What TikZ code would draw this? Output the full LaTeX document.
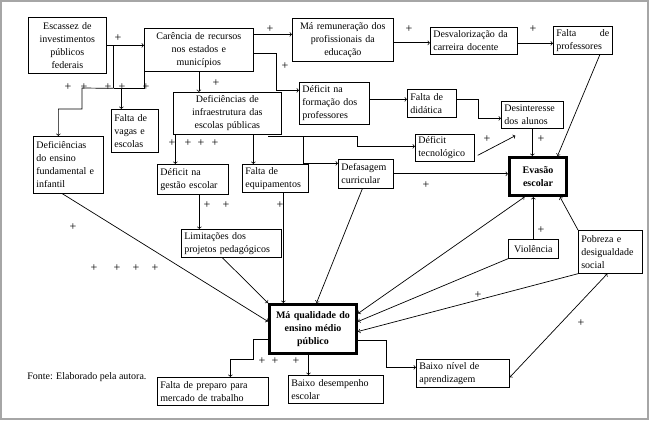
\documentclass[tikz,border=0pt]{standalone}
\usepackage{fontspec}
\setmainfont{Liberation Serif}
\usetikzlibrary{positioning, calc, arrows}

\begin{document}
\begin{tikzpicture}[x=1pt, y=-1pt, line width=0.7pt,
  box/.style={draw, anchor=north west, inner xsep=3pt, inner ysep=1pt, align=center, font=\fontsize{10}{13}\selectfont},
  lbox/.style={box, align=left},
  key/.style={box, line width=3pt, outer sep=1.5pt, font=\bfseries\fontsize{10}{13}\selectfont},
  plus/.style={inner sep=0pt, font=\fontsize{12}{12}\selectfont}]
   \useasboundingbox (0,0) rectangle (650,422);
   \draw[gray!70, line width=1.2pt] (1,1) rectangle (648,419);

   \node[box, text width=72pt, minimum height=56pt] (esc) at (28,17) {Escassez de\\investimentos\\públicos\\federais};
   \node[box, text width=103pt, minimum height=43pt] (car) at (144,28) {Carência de recursos\\nos estados e\\municípios};
   \node[box, text width=95pt, minimum height=43pt] (rem) at (292,18) {Má remuneração dos\\profissionais da\\educação};
   \node[lbox, text width=81pt, minimum height=27pt] (desv) at (430,27) {Desvalorização da\\carreira docente};
   \node[lbox, text width=53pt, minimum height=28pt] (prof) at (553,26) {Falta\hfill de\\professores};
   \node[lbox, text width=41pt, minimum height=43pt] (vagas) at (111,109) {Falta de\\vagas e\\escolas};
   \node[box, text width=102pt, minimum height=42pt] (infra) at (173,92) {Deficiências de\\infraestrutura das\\escolas públicas};
   \node[lbox, text width=64pt, minimum height=42pt] (form) at (299,82) {Déficit na\\formação dos\\professores};
   \node[lbox, text width=43pt, minimum height=28pt] (did) at (407,89) {Falta de\\didática};
   \node[lbox, text width=56pt, minimum height=27pt] (desint) at (501,101) {Desinteresse\\dos alunos};
   \node[lbox, text width=53pt, minimum height=27pt] (tec) at (415,134) {Déficit\\tecnológico};
   \node[lbox, text width=64pt, minimum height=57pt] (fund) at (33,136) {Deficiências\\do ensino\\fundamental e\\infantil};
   \node[lbox, text width=65pt, minimum height=30pt] (gest) at (157,164) {Déficit na\\gestão escolar};
   \node[lbox, text width=60pt, minimum height=28pt] (equip) at (242,164) {Falta de\\equipamentos};
   \node[lbox, text width=49pt, minimum height=29pt] (defas) at (338,159) {Defasagem\\curricular};
   \node[key, text width=51pt, minimum height=38pt] (evasao) at (508,156) {Evasão\\escolar};
   \node[lbox, text width=94pt, minimum height=28pt] (lim) at (181,229) {Limitações dos\\projetos pedagógicos};
   \node[box, text width=44pt, minimum height=19pt] (viol) at (508,239) {Violência};
   \node[lbox, text width=58pt, minimum height=43pt] (pobr) at (578,230) {Pobreza e\\desigualdade\\social};
   \node[key, text width=81pt, minimum height=49pt] (quali) at (268,303) {Má qualidade do\\ensino médio\\público};
   \node[lbox, text width=105pt, minimum height=28pt] (prep) at (157,377) {Falta de preparo para\\mercado de trabalho};
   \node[lbox, text width=89pt, minimum height=28pt] (desemp) at (288,375) {Baixo desempenho\\escolar};
   \node[lbox, text width=87pt, minimum height=28pt] (aprend) at (416,359) {Baixo nível de\\aprendizagem};
   \node[anchor=west, inner sep=0pt, font=\fontsize{10}{13}\selectfont] (fonte) at (27,377) {Fonte: Elaborado pela autora.};

   % top row
   \draw[->] (esc.east) -- (esc.east -| car.west);
   \draw (esc.east) ++(7,0) coordinate (ja) -- ++(0,43) coordinate (jb);
   \draw[->] (jb) -- (82,88) -- (82,109) -| ([xshift=-10pt]fund.north);
   \draw (car.south west) |- (jb);
   \coordinate (jv) at ([xshift=-13.5pt]vagas.north |- jb);
   \draw[->] (jv) -- ([xshift=-13.5pt]vagas.north);
   \draw[->] ([yshift=15.5pt]car.east) coordinate (c1) -- (c1 -| rem.west);
   \draw[->] ([yshift=-4pt]car.east) -- ++(23,0) |- ([yshift=13pt]form.west);
   \draw[->] (car.south) -- (car.south |- infra.north);
   \draw[->] ([yshift=-3pt]rem.east) coordinate (c2) -- (c2 -| desv.west);
   \draw[->] ([yshift=-2.5pt]desv.east) coordinate (c3) -- (c3 -| prof.west);
   \draw[->] ([xshift=17pt]prof.south) -- ([xshift=19.5pt]evasao.north);
   \draw[->] ([yshift=4pt]form.east) coordinate (c4) -- (c4 -| did.west);
   \draw[->] ([yshift=4pt]did.east) -- ++(22,0) |- ([yshift=-3.5pt]desint.west);
   \draw[->] (desint.south) -- (desint.south |- evasao.north);
   \draw[->] ([shift={(3pt,-7.5pt)}]tec.east) -- ([shift={(-17pt,-7pt)}]desint.south);

   % infraestrutura
   \draw[->] ([shift={(41pt,-2pt)}]infra.south) -- ++(89,0) |- ([yshift=1.5pt]tec.west);
   \draw[->] ([shift={(76pt,-2pt)}]infra.south) |- ([yshift=10.5pt]defas.west);
   \draw[->] ([xshift=-52pt]infra.south) coordinate (c5) -- (c5 |- gest.north);
   \draw[->] ([xshift=26pt]infra.south) coordinate (c6) -- (c6 |- equip.north);
   \draw[->] ([xshift=6.5pt]gest.south) coordinate (c7) -- (c7 |- lim.north);

   % into ma qualidade / evasao
   \draw[->] ([xshift=8pt]equip.south) coordinate (c8) -- (c8 |- quali.north);
   \draw[->] ([xshift=-9pt]lim.south) -- (quali.north west);
   \draw[->] ([xshift=-6pt]fund.south) -- ([yshift=7.5pt]quali.west);
   \draw[->] ([xshift=-3.5pt]defas.south) -- ([xshift=3.5pt]quali.north);
   \draw[<->] ([xshift=-13.5pt]evasao.south) -- ([yshift=15.5pt]quali.east);
   \draw[->] (defas.east) -- (defas.east -| evasao.west);
   \draw[->] (viol.north) -- (viol.north |- evasao.south);
   \draw[->] (viol.south west) -- ([yshift=7.5pt]quali.east);
   \draw[->] (pobr.north west) -- ([xshift=-8pt]evasao.south east);
   \draw[->] (pobr.south west) -- ([yshift=-2.5pt]quali.east);
   \draw[<->] ([xshift=-3pt]pobr.south) -- ([yshift=-4pt]aprend.east);

   % consequences
   \draw[->] ([yshift=-10.5pt]quali.west) -- ++(-15,0) -- ++(0,20) -| ([xshift=17.5pt]prep.north);
   \draw[->] ([xshift=-4.5pt]quali.south) coordinate (c9) -- (c9 |- desemp.north);
   \draw[->] ([yshift=-11.5pt]quali.east) -- ++(28,0) |- ([yshift=6pt]aprend.west);

   % signs
   \foreach \px/\py [count=\i] in {118/38, 68/87, 84/87, 108/87, 122/87, 146/87, 270/29, 285/66,
       216/83, 409/29, 533/29, 172/143, 188/143, 201/143, 215/143, 207/205, 226/205, 280/205,
       487/139, 541/139, 426/185, 541/230, 73/227, 94/268, 117/268, 136/268, 155/268,
       478/295, 581/323, 262/361, 275/361, 296/361}
     \node[plus] (p\i) at (\px,\py) {+};
\end{tikzpicture}
\end{document}
